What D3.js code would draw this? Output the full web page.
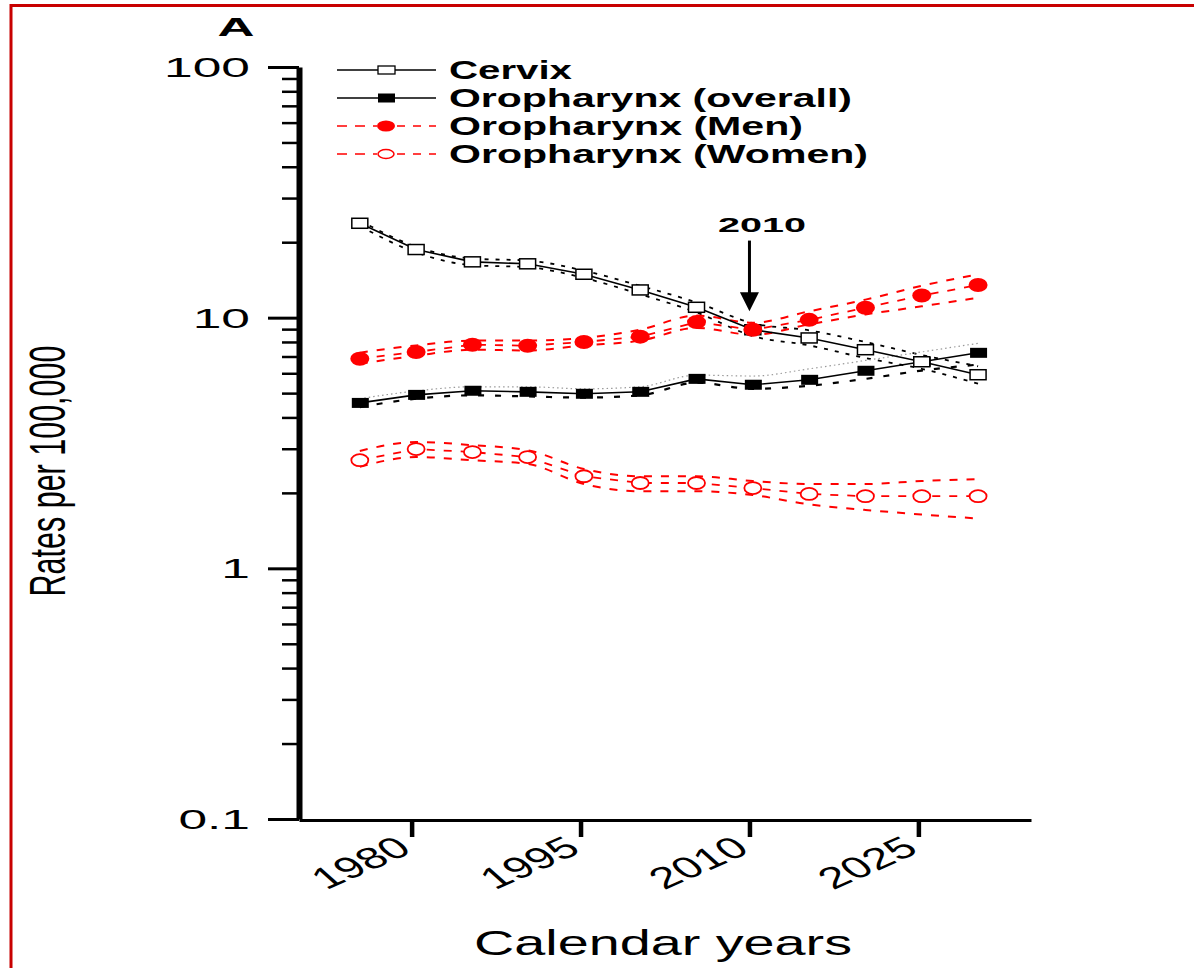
<!DOCTYPE html>
<html><head><meta charset="utf-8">
<script src="https://cdn.jsdelivr.net/npm/d3@7"></script>
<style>html,body{margin:0;padding:0;background:#fff;} svg{display:block;}</style>
</head><body>
<svg id="chart" width="1194" height="968"></svg>
<script>
// ---------- data ----------
const years = [1975.4, 1980.4, 1985.4, 1990.3, 1995.3, 2000.3, 2005.3, 2010.3, 2015.3, 2020.3, 2025.3, 2030.3];

const cervix     = [23.8, 18.7, 16.7, 16.4, 14.9, 12.9, 11.0, 8.95, 8.3, 7.45, 6.67, 5.92];
const cervixHigh = [24.4, 19.2, 17.2, 16.9, 15.4, 13.4, 11.5, 9.5, 8.9, 8.0, 7.1, 6.4];
const cervixLow  = [23.2, 18.2, 16.2, 15.9, 14.4, 12.4, 10.5, 8.45, 7.75, 6.9, 6.25, 5.45];

const overall     = [4.57, 4.92, 5.11, 5.06, 4.97, 5.06, 5.70, 5.40, 5.65, 6.14, 6.67, 7.24];
const overallHigh = [4.75, 5.1, 5.3, 5.3, 5.2, 5.3, 5.9, 5.85, 6.25, 6.75, 7.3, 7.9];
const overallLow  = [4.4, 4.75, 4.9, 4.85, 4.8, 4.9, 5.5, 5.2, 5.35, 5.7, 6.15, 6.5];

const men     = [6.86, 7.3, 7.8, 7.73, 8.0, 8.4, 9.6, 8.95, 9.8, 10.96, 12.25, 13.5];
const menHigh = [7.25, 7.75, 8.1, 8.1, 8.3, 8.95, 10.2, 9.55, 10.6, 11.8, 13.4, 14.9];
const menLow  = [6.55, 7.05, 7.45, 7.4, 7.75, 8.1, 9.1, 8.55, 9.4, 10.3, 11.1, 12.0];

const women     = [2.70, 2.99, 2.91, 2.78, 2.33, 2.19, 2.19, 2.09, 1.98, 1.94, 1.94, 1.94];
const womenHigh = [2.94, 3.19, 3.10, 2.96, 2.49, 2.33, 2.33, 2.23, 2.17, 2.17, 2.23, 2.27];
const womenLow  = [2.54, 2.78, 2.70, 2.61, 2.17, 2.03, 2.03, 1.96, 1.80, 1.71, 1.64, 1.58];

const seriesNames = ["Cervix", "Oropharynx (overall)", "Oropharynx (Men)", "Oropharynx (Women)"];
const xTickValues = [1980, 1995, 2010, 2025];
const xTickLabels = ["1980", "1995", "2010", "2025"];
const yMajorTicks = [0.1, 1, 10, 100];
const yTickLabels = ["0.1", "1", "10", "100"];
const panelLabel = "A";
const xTitle = "Calendar years";
const yTitle = "Rates per 100,000";
const annotationYear = 2010, annotationLabel = "2010";
const arrowFrom = 20.3, arrowTo = 10.6;

// ---------- layout ----------
const FONT = "'Liberation Sans', Arial, Helvetica, sans-serif";
const RED = "#ff0000";
const svg = d3.select("#chart");

const x = d3.scaleLinear().domain([1970, 2035]).range([299, 1031]);
const y = d3.scaleLog().domain([0.1, 100]).range([819, 67]);

// frame
svg.append("path").attr("d", "M11,975V5.5H1200")
  .attr("fill", "none").attr("stroke", "#c80000").attr("stroke-width", 3);

// panel label
svg.append("text").attr("x", 236).attr("y", 36).attr("text-anchor", "middle")
  .attr("font-family", FONT).attr("font-weight", "bold").attr("font-size", 26)
  .attr("textLength", 37).attr("lengthAdjust", "spacingAndGlyphs").text(panelLabel);

// ---------- axes ----------
const minorTicks = y.ticks().filter(v => !yMajorTicks.some(m => Math.abs(m - v) < 1e-9));

const yMinor = svg.append("g").attr("transform", "translate(299,0)")
  .call(d3.axisLeft(y).tickValues(minorTicks).tickSize(17).tickSizeOuter(0).tickFormat(""));
yMinor.select(".domain").remove();
yMinor.selectAll(".tick line").attr("stroke", "#000").attr("stroke-width", 2.5);

const yMajor = svg.append("g").attr("transform", "translate(299,0)")
  .call(d3.axisLeft(y).tickValues(yMajorTicks).tickSize(31).tickSizeOuter(0).tickFormat(""));
yMajor.select(".domain").attr("stroke", "#000").attr("stroke-width", 6);
yMajor.selectAll(".tick line").attr("stroke", "#000").attr("stroke-width", 3);

svg.append("g").selectAll("text").data(yMajorTicks).join("text")
  .attr("transform", d => `translate(250,${y(d) + 10}) scale(1.84,1)`)
  .attr("text-anchor", "end").attr("font-family", FONT).attr("font-size", 28)
  .text((d, i) => yTickLabels[i]);

const xAxis = svg.append("g").attr("transform", "translate(0,820)")
  .call(d3.axisBottom(x).tickValues(xTickValues).tickSize(17).tickSizeOuter(0).tickFormat(""));
xAxis.select(".domain").attr("stroke", "#000").attr("stroke-width", 3);
xAxis.selectAll(".tick line").attr("stroke", "#000").attr("stroke-width", 4.5);

svg.append("g").selectAll("text").data(xTickValues).join("text")
  .attr("transform", d => `translate(${x(d) + 2},852) scale(1.6,1) rotate(-35)`)
  .attr("text-anchor", "end").attr("font-family", FONT).attr("font-size", 30)
  .text((d, i) => xTickLabels[i]);

svg.append("text").attr("x", 663).attr("y", 955).attr("text-anchor", "middle")
  .attr("font-family", FONT).attr("font-size", 35)
  .attr("textLength", 378).attr("lengthAdjust", "spacingAndGlyphs").text(xTitle);

svg.append("text").attr("transform", "translate(65,471) scale(1.65,1) rotate(-90)")
  .attr("text-anchor", "middle").attr("font-family", FONT).attr("font-size", 30.5)
  .text(yTitle);

// ---------- series ----------
const rows = years.map((yr, i) => ({
  yr, cervix: cervix[i], cervixHigh: cervixHigh[i], cervixLow: cervixLow[i],
  overall: overall[i], overallHigh: overallHigh[i], overallLow: overallLow[i],
  men: men[i], menHigh: menHigh[i], menLow: menLow[i],
  women: women[i], womenHigh: womenHigh[i], womenLow: womenLow[i]
}));

const lineFor = (key, curve) => d3.line().x(d => x(d.yr)).y(d => y(d[key])).curve(curve || d3.curveLinear);
const plot = svg.append("g");

function drawLine(key, stroke, width, dash, curve) {
  plot.append("path").datum(rows).attr("d", lineFor(key, curve)(rows))
    .attr("fill", "none").attr("stroke", stroke).attr("stroke-width", width)
    .attr("stroke-dasharray", dash || null);
}

// confidence bands
drawLine("cervixHigh", "#000", 1.8, "4,7", d3.curveMonotoneX);
drawLine("cervixLow", "#000", 1.8, "4,7", d3.curveMonotoneX);
drawLine("overallHigh", "#999", 1.2, "1.5,3", d3.curveMonotoneX);
drawLine("overallLow", "#000", 2.2, "6,11", d3.curveMonotoneX);
drawLine("menHigh", RED, 2, "8,9", d3.curveMonotoneX);
drawLine("menLow", RED, 2, "8,9", d3.curveMonotoneX);
drawLine("womenHigh", RED, 2, "8,9", d3.curveMonotoneX);
drawLine("womenLow", RED, 2, "8,9", d3.curveMonotoneX);

// main lines
drawLine("cervix", "#000", 1.6);
drawLine("overall", "#000", 1.6);
drawLine("men", RED, 1.8, "8,9");
drawLine("women", RED, 1.8, "8,9");

// markers
plot.append("g").selectAll("rect").data(rows).join("rect")
  .attr("x", d => x(d.yr) - 8).attr("y", d => y(d.overall) - 5).attr("width", 17).attr("height", 10)
  .attr("fill", "#000");
plot.append("g").selectAll("rect").data(rows).join("rect")
  .attr("x", d => x(d.yr) - 8).attr("y", d => y(d.cervix) - 5).attr("width", 16).attr("height", 10)
  .attr("fill", "#fff").attr("stroke", "#000").attr("stroke-width", 1.5);
plot.append("g").selectAll("ellipse").data(rows).join("ellipse")
  .attr("cx", d => x(d.yr)).attr("cy", d => y(d.men)).attr("rx", 9.5).attr("ry", 7)
  .attr("fill", RED);
plot.append("g").selectAll("ellipse").data(rows).join("ellipse")
  .attr("cx", d => x(d.yr)).attr("cy", d => y(d.women)).attr("rx", 8.5).attr("ry", 6)
  .attr("fill", "#fff").attr("stroke", RED).attr("stroke-width", 1.8);

// ---------- annotation ----------
const ax = x(annotationYear);
svg.append("line").attr("x1", ax).attr("x2", ax).attr("y1", y(arrowFrom)).attr("y2", y(arrowTo) - 16)
  .attr("stroke", "#000").attr("stroke-width", 3);
svg.append("path")
  .attr("d", `M${ax - 9.5},${y(arrowTo) - 19}L${ax + 9.5},${y(arrowTo) - 19}L${ax},${y(arrowTo)}Z`)
  .attr("fill", "#000");
svg.append("text").attr("x", 762).attr("y", 232).attr("text-anchor", "middle")
  .attr("font-family", FONT).attr("font-weight", "bold").attr("font-size", 21)
  .attr("textLength", 88).attr("lengthAdjust", "spacingAndGlyphs").text(annotationLabel);

// ---------- legend ----------
const legendWidths = [123, 403, 354, 419];
const legend = svg.append("g");
const legendStyles = [
  {stroke: "#000", dash: null, marker: "openSquare"},
  {stroke: "#000", dash: null, marker: "square"},
  {stroke: RED, dash: "10,8", marker: "dot"},
  {stroke: RED, dash: "10,8", marker: "circle"}
];
seriesNames.forEach((name, i) => {
  const ly = 70 + i * 28, st = legendStyles[i];
  const g = legend.append("g");
  if (st.dash) {
    g.append("line").attr("x1", 337).attr("x2", 377).attr("y1", ly).attr("y2", ly)
      .attr("stroke", st.stroke).attr("stroke-width", 1.5).attr("stroke-dasharray", st.dash);
    g.append("line").attr("x1", 395).attr("x2", 436).attr("y1", ly).attr("y2", ly)
      .attr("stroke", st.stroke).attr("stroke-width", 1.5).attr("stroke-dasharray", "8,8").attr("stroke-dashoffset", -2);
  } else {
    g.append("line").attr("x1", 337).attr("x2", 436).attr("y1", ly).attr("y2", ly)
      .attr("stroke", st.stroke).attr("stroke-width", 1.5);
  }
  if (st.marker === "openSquare") g.append("rect").attr("x", 378).attr("y", ly - 4).attr("width", 17).attr("height", 8)
      .attr("fill", "#fff").attr("stroke", "#000").attr("stroke-width", 1.3);
  if (st.marker === "square") g.append("rect").attr("x", 378).attr("y", ly - 4.5).attr("width", 17).attr("height", 9)
      .attr("fill", "#000");
  if (st.marker === "dot") g.append("ellipse").attr("cx", 386).attr("cy", ly).attr("rx", 9).attr("ry", 5.5).attr("fill", RED);
  if (st.marker === "circle") g.append("ellipse").attr("cx", 386).attr("cy", ly).attr("rx", 8).attr("ry", 4.5)
      .attr("fill", "#fff").attr("stroke", RED).attr("stroke-width", 1.5);
  g.append("text").attr("x", 449).attr("y", ly + 9).attr("font-family", FONT).attr("font-weight", "bold")
    .attr("font-size", 25).attr("textLength", legendWidths[i]).attr("lengthAdjust", "spacingAndGlyphs").text(name);
});
</script>
</body></html>
